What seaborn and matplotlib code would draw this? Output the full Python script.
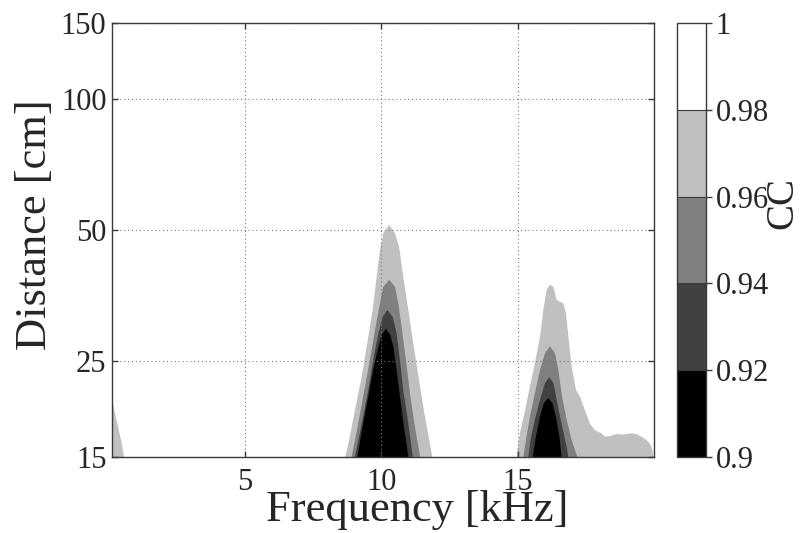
import numpy as np
import matplotlib
matplotlib.use("Agg")
import matplotlib.pyplot as plt
import seaborn as sns
from matplotlib.colors import ListedColormap, BoundaryNorm
from matplotlib.cm import ScalarMappable

# ---------------- data (contour boundaries) ----------------
# CC contour levels and the grey assigned to each band
cc_levels = [0.90, 0.92, 0.94, 0.96, 0.98, 1.00]
band_colors = ["#000000", "#404040", "#808080", "#c0c0c0", "#ffffff"]
cc_tick_labels = ["0.9", "0.92", "0.94", "0.96", "0.98", "1"]

x_ticks = [5, 10, 15]
y_ticks = [15, 25, 50, 100, 150]

# Low-frequency edge: CC < 0.98
edge_f_098 = [0.12, 0.12, 0.15, 0.23, 0.35, 0.48, 0.56]
edge_d_098 = [15.0, 22.0, 20.0, 18.9, 17.5, 16.1, 15.0]

# Peak near 10 kHz
p10_f_098 = [8.67, 8.79, 9.03, 9.28, 9.48, 9.68, 9.83, 9.95, 10.07, 10.29, 10.50, 10.65, 10.80, 10.99, 11.17, 11.36, 11.56, 11.78, 11.87]
p10_d_098 = [15.0, 16.1, 19.2, 23.0, 27.4, 32.7, 39.1, 45.0, 49.1, 51.4, 49.1, 45.8, 39.1, 32.7, 27.4, 23.0, 19.2, 16.1, 15.0]
p10_f_096 = [8.91, 9.15, 9.40, 9.58, 9.79, 9.95, 10.07, 10.29, 10.50, 10.62, 10.74, 10.90, 11.05, 11.23, 11.42]
p10_d_096 = [15.0, 17.9, 21.8, 25.1, 30.0, 33.9, 37.0, 38.4, 37.0, 33.9, 30.0, 25.1, 21.0, 17.6, 15.0]
p10_f_094 = [9.03, 9.28, 9.52, 9.70, 9.89, 10.05, 10.22, 10.41, 10.56, 10.68, 10.80, 10.99, 11.15]
p10_d_094 = [15.0, 17.9, 21.4, 25.1, 28.9, 31.6, 32.7, 31.6, 28.9, 25.1, 21.4, 17.9, 15.0]
p10_f_092 = [9.12, 9.31, 9.52, 9.70, 9.89, 10.01, 10.17, 10.32, 10.44, 10.56, 10.68, 10.83, 10.99]
p10_d_092 = [15.0, 17.6, 20.7, 23.8, 26.9, 28.7, 29.6, 28.7, 26.9, 23.8, 20.7, 17.6, 15.0]

# Peak near 16 kHz (with the high-frequency shoulder)
p16_f_098 = [14.96, 14.99, 15.08, 15.27, 15.45, 15.63, 15.82, 15.94, 16.06, 16.18, 16.31, 16.43, 16.55, 16.67,
             16.77, 16.86, 16.98, 17.14, 17.28, 17.47, 17.65, 17.83, 18.08, 18.20, 18.38, 18.63, 18.87, 19.12,
             19.36, 19.54, 19.73, 19.85, 19.95, 19.97]
p16_d_098 = [15.0, 15.6, 17.0, 19.2, 21.8, 24.7, 28.4, 32.7, 36.4, 37.4, 37.0, 34.5, 34.2, 33.9,
             32.2, 28.4, 24.2, 21.4, 20.7, 19.2, 17.9, 17.3, 17.0, 16.7, 16.75, 16.95, 16.9, 17.0,
             16.95, 16.7, 16.4, 16.1, 15.6, 15.0]
p16_f_096 = [15.21, 15.30, 15.45, 15.63, 15.82, 16.00, 16.18, 16.37, 16.49, 16.61, 16.77, 16.98, 17.19]
p16_d_096 = [15.0, 16.4, 18.6, 21.0, 23.8, 26.0, 27.0, 26.0, 23.8, 21.0, 18.6, 16.4, 15.0]
p16_f_094 = [15.39, 15.47, 15.63, 15.82, 16.00, 16.16, 16.31, 16.43, 16.61, 16.77, 16.86]
p16_d_094 = [15.0, 16.4, 18.3, 20.3, 22.2, 22.9, 22.2, 20.3, 17.9, 16.1, 15.0]
p16_f_092 = [15.55, 15.67, 15.82, 15.96, 16.12, 16.28, 16.40, 16.53, 16.61]
p16_d_092 = [15.0, 16.7, 18.6, 19.95, 20.5, 19.95, 18.6, 16.7, 15.0]

# ---------------- styling ----------------
sns.set_style("white")
plt.rcParams["font.family"] = ["Liberation Serif", "DejaVu Serif"]

fig = plt.figure(figsize=(8.0, 5.33), dpi=100)
ax = fig.add_axes([112 / 800, 76 / 533, 542 / 800, 434 / 533])
cax = fig.add_axes([677 / 800, 76 / 533, 29 / 800, 434 / 533])

regions = [
    (edge_f_098, edge_d_098, band_colors[3]),
    (p10_f_098, p10_d_098, band_colors[3]),
    (p16_f_098, p16_d_098, band_colors[3]),
    (p10_f_096, p10_d_096, band_colors[2]),
    (p16_f_096, p16_d_096, band_colors[2]),
    (p10_f_094, p10_d_094, band_colors[1]),
    (p16_f_094, p16_d_094, band_colors[1]),
    (p10_f_092, p10_d_092, band_colors[0]),
    (p16_f_092, p16_d_092, band_colors[0]),
]
for f, d, c in regions:
    ax.fill(f, d, color=c, lw=0, zorder=1)

ax.set_yscale("log")
ax.set_xlim(0.12, 20.0)
ax.set_ylim(15, 150)
ax.set_xticks(x_ticks)
ax.set_xticklabels([str(t) for t in x_ticks])
ax.set_yticks(y_ticks)
ax.set_yticklabels([str(t) for t in y_ticks])
ax.yaxis.set_minor_locator(matplotlib.ticker.NullLocator())

ax.grid(True, which="major", color="#7a7a7a", linestyle=(0, (1, 2.5)), linewidth=0.8, zorder=2)
ax.set_axisbelow(False)
for s in ax.spines.values():
    s.set_color("#3a3a3a")
    s.set_linewidth(1.0)
    s.set_zorder(5)

ax.tick_params(axis="both", which="major", direction="in", length=4, width=1, color="#3a3a3a",
               labelsize=22, top=True, right=True, bottom=True, left=True)
ax.tick_params(axis="x", pad=8)
ax.tick_params(axis="y", pad=4)

ax.set_xlabel("Frequency [kHz]", fontsize=32)
ax.xaxis.set_label_coords(0.563, -0.077)
ax.set_ylabel("Distance [cm]", fontsize=32)
ax.yaxis.set_label_coords(-0.105, 0.535)

# colorbar
cmap = ListedColormap(band_colors)
norm = BoundaryNorm(cc_levels, cmap.N)
sm = ScalarMappable(norm=norm, cmap=cmap)
cb = fig.colorbar(sm, cax=cax, ticks=cc_levels, drawedges=True)
cb.ax.set_yticklabels(cc_tick_labels)
cb.ax.tick_params(labelsize=22, length=4, width=1, direction="out", color="#3a3a3a", pad=3)
cb.outline.set_edgecolor("#3a3a3a")
cb.outline.set_linewidth(1.0)
cb.dividers.set_color("#3a3a3a")
cb.dividers.set_linewidth(0.8)
cb.set_label("CC", fontsize=28, rotation=90)
cb.ax.yaxis.set_label_coords(3.0, 0.585)

fig.savefig("out.png", dpi=100)
